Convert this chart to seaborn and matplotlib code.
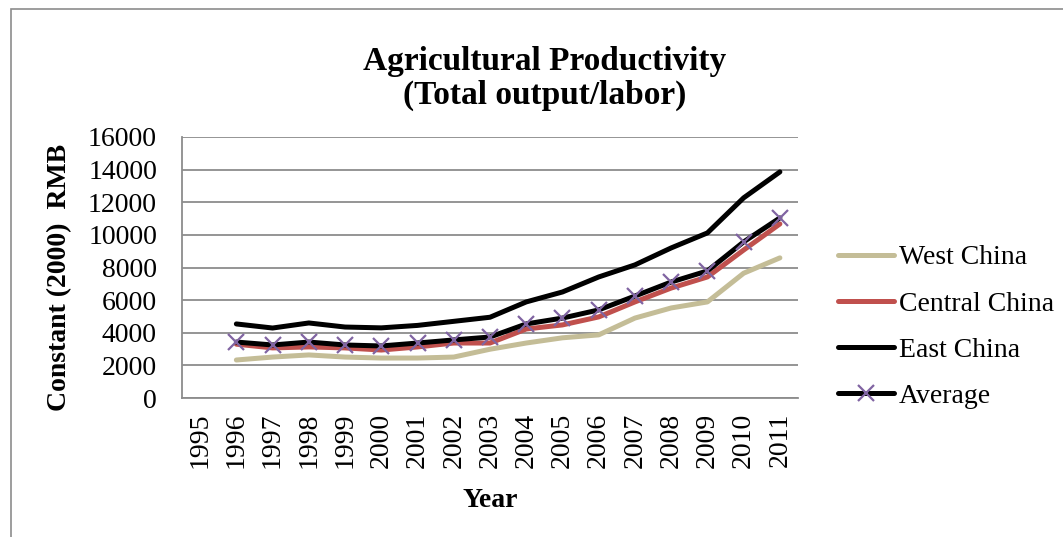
import matplotlib
matplotlib.use("Agg")
import matplotlib.pyplot as plt
import seaborn as sns
import pandas as pd
import numpy as np
from matplotlib.patches import Rectangle

# Agricultural productivity (total output per labourer), constant 2000 RMB
years = [str(y) for y in range(1995, 2012)]
data_years = list(range(1996, 2012))
west = [2330, 2510, 2640, 2510, 2450, 2450, 2510, 2990, 3370, 3690, 3870, 4900, 5520, 5890, 7650, 8590]
central = [3300, 3070, 3130, 3070, 2940, 3130, 3370, 3370, 4230, 4480, 4970, 5890, 6740, 7420, 9070, 10670]
east = [4540, 4290, 4600, 4350, 4300, 4450, 4700, 4950, 5890, 6500, 7420, 8160, 9200, 10120, 12270, 13860]
average = [3430, 3250, 3430, 3250, 3190, 3370, 3560, 3740, 4540, 4900, 5400, 6250, 7110, 7790, 9570, 11040]
series_names = ["West China", "Central China", "East China", "Average"]
yticks = list(range(0, 16001, 2000))

sns.set_theme(style="white")
plt.rcParams["font.family"] = ["Liberation Serif", "DejaVu Serif"]
plt.rcParams["text.color"] = "black"
plt.rcParams["axes.labelcolor"] = "black"
plt.rcParams["xtick.color"] = "black"
plt.rcParams["ytick.color"] = "black"

pos = [years.index(str(y)) for y in data_years]
df = pd.DataFrame({"pos": pos * 4,
                   "value": west + central + east + average,
                   "series": np.repeat(series_names, len(pos))})

W, H = 1063, 537
fig = plt.figure(figsize=(W / 100, H / 100), dpi=100)
fig.patches.append(Rectangle((11 / W, -0.1), 1.2, 1 - 9 / H + 0.1, transform=fig.transFigure,
                             fill=False, edgecolor="#8c8c8c", linewidth=1.2))
ax = fig.add_axes([182 / W, 1 - 398 / H, (798 - 182) / W, (398 - 137) / H])

palette = {"West China": "#C4BD97", "Central China": "#C0504D", "East China": "#000000", "Average": "#000000"}
for name in series_names:
    sub = df[df["series"] == name]
    if name == "Average":
        sns.lineplot(data=sub, x="pos", y="value", ax=ax, color="black", linewidth=3.6,
                     marker="x", markersize=11, markeredgecolor="#8064A2", markeredgewidth=1.6,
                     label=name, zorder=4)
    else:
        sns.lineplot(data=sub, x="pos", y="value", ax=ax, color=palette[name], linewidth=3.6,
                     label=name, zorder=3)

ax.set_xlim(-0.5, len(years) - 0.5)
ax.set_ylim(0, 16000)
ax.set_yticks(yticks)
ax.set_yticklabels([str(t) for t in yticks], fontsize=20)
ax.set_xticks(range(len(years)))
ax.set_xticklabels(years, rotation=90, fontsize=20)
ax.yaxis.grid(True, color="#8c8c8c", linewidth=1.3)
ax.xaxis.grid(False)
for s in ["top", "right"]:
    ax.spines[s].set_visible(False)
for s in ["left", "bottom"]:
    ax.spines[s].set_color("#8c8c8c")
    ax.spines[s].set_linewidth(1.3)
ax.tick_params(axis="y", length=0, pad=18)
ax.tick_params(axis="x", length=0, pad=10.5)

ax.set_xlabel("Year", fontsize=20, fontweight="bold")
ax.xaxis.set_label_coords(0.5, (398 - 488) / 261)
ax.set_ylabel("Constant (2000)  RMB", fontsize=20, fontweight="bold")
ax.yaxis.set_label_coords((72 - 182) / 616, (398 - 277) / 261)

fig.text(545 / W, 1 - 70 / H, "Agricultural Productivity", ha="center", va="baseline",
         fontsize=24, fontweight="bold")
fig.text(545 / W, 1 - 104 / H, "(Total output/labor)", ha="center", va="baseline",
         fontsize=24, fontweight="bold")

ax.legend(loc="center left", bbox_to_anchor=(838 / W, 1 - 327 / H),
          bbox_transform=fig.transFigure, frameon=False, fontsize=20,
          handlelength=2.0, labelspacing=0.75, handletextpad=0.2,
          borderaxespad=0, borderpad=0)

fig.savefig("out.png", dpi=100)
